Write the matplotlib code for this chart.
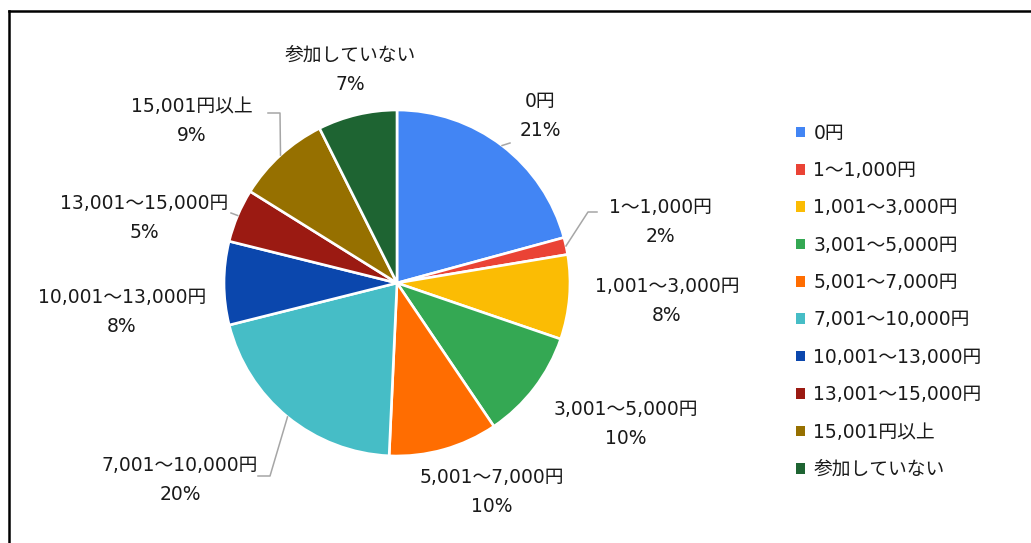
import numpy as np
import matplotlib
matplotlib.use("Agg")
from matplotlib import pyplot as plt
from matplotlib.patches import Patch

plt.rcParams['font.family'] = ['DejaVu Sans', 'Noto Sans CJK JP']

# datos
categorias = ["0円", "1～1,000円", "1,001～3,000円", "3,001～5,000円", "5,001～7,000円",
              "7,001～10,000円", "10,001～13,000円", "13,001～15,000円", "15,001円以上", "参加していない"]
valores = [20.8, 1.6, 7.9, 10.3, 10.2, 20.4, 7.8, 5.0, 8.75, 7.4]
colores = ["#4285F4", "#EA4335", "#FBBC04", "#34A853", "#FF6D01",
           "#46BDC6", "#0B47AD", "#9B1A12", "#967000", "#1E6432"]

W, H = 1031, 543
cx, cy, r = 397, H - 283, 173

# posiciones de etiquetas (pixeles, y desde arriba) y lineas guia
pos_etiq = [(540, 116), (660, 222), (667, 301), (626, 424), (492, 492),
            (180, 480), (122, 312), (144, 218), (192, 121), (350, 70)]
guias = {0: [(510, 143)],
         1: [(588, 212), (597, 212)],
         5: [(270, 476), (258, 476)],
         7: [(231, 213)],
         8: [(280, 113), (268, 113)]}

fig = plt.figure(figsize=(W / 100, H / 100), dpi=100)
ax = fig.add_axes([0, 0, 1, 1])

wedges, _ = ax.pie(valores, colors=colores, startangle=90, counterclock=False,
                   center=(cx, cy), radius=r,
                   wedgeprops=dict(edgecolor='white', linewidth=1.9))
ax.set_xlim(0, W)
ax.set_ylim(0, H)
ax.set_aspect('equal')
ax.axis('off')

total = sum(valores)
for i, w in enumerate(wedges):
    pct = round(valores[i] / total * 100)
    x, y = pos_etiq[i]
    ax.text(x, H - y, categorias[i] + "\n" + str(pct) + "%", ha='center', va='center',
            fontsize=13.5, color='#1a1a1a', linespacing=1.65)
    if i in guias:
        ang = np.deg2rad((w.theta1 + w.theta2) / 2)
        px = [cx + r * np.cos(ang)] + [p[0] for p in guias[i]]
        py = [cy + r * np.sin(ang)] + [H - p[1] for p in guias[i]]
        ax.plot(px, py, color='#A6A6A6', linewidth=1.1)

handles = [Patch(facecolor=c, edgecolor='none') for c in colores]
leg = ax.legend(handles, categorias, loc='upper left', bbox_to_anchor=(788 / W, 1 - 116 / H),
                frameon=False, fontsize=13.5, handlelength=0.5, handleheight=0.5,
                handletextpad=0.45, labelspacing=0.98, borderaxespad=0)
for t in leg.get_texts():
    t.set_color('#1a1a1a')

# marco
ax.plot([9, 9], [0, H - 11], color='black', linewidth=1.8, clip_on=False)
ax.plot([9, W], [H - 11, H - 11], color='black', linewidth=1.8, clip_on=False)

fig.savefig("out.png", dpi=100)
